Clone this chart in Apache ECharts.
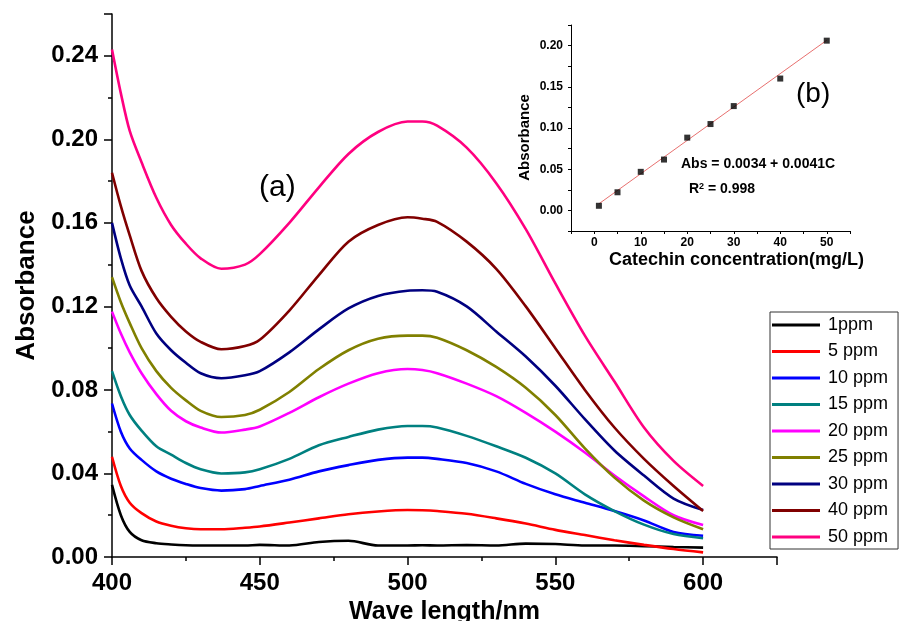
<!DOCTYPE html>
<html>
<head>
<meta charset="utf-8">
<script src="https://cdn.jsdelivr.net/npm/echarts@6/dist/echarts.min.js"></script>
<style>
    html, body {margin: 0; padding: 0; background: #fff;}
    #chartMain {width: 900px; height: 621px;}
</style>
</head>
<body>
<div id="chartMain"></div>
<script>
// wavelength grid (nm) shared by all spectra
var wavelength = [400, 403, 406, 410, 415, 420, 425, 430, 437, 445, 450, 460, 470, 480, 490, 500, 505, 510, 520, 530, 540, 550, 560, 570, 580, 590, 600];

var abs1ppm = [0.0345, 0.020, 0.012, 0.008, 0.0066, 0.006, 0.0056, 0.0055, 0.0055, 0.0055, 0.0058, 0.0055, 0.0072, 0.0078, 0.0055, 0.0055, 0.0056, 0.0055, 0.0057, 0.0055, 0.0064, 0.0062, 0.0055, 0.0055, 0.0052, 0.0048, 0.0045];
var abs5ppm = [0.048, 0.034, 0.026, 0.021, 0.017, 0.015, 0.0138, 0.0133, 0.0133, 0.014, 0.0146, 0.0165, 0.0185, 0.0205, 0.0218, 0.0225, 0.0224, 0.022, 0.0207, 0.0185, 0.016, 0.013, 0.0105, 0.008, 0.0058, 0.0038, 0.0022];
var abs10ppm = [0.0735, 0.060, 0.052, 0.0465, 0.041, 0.0375, 0.035, 0.033, 0.0318, 0.0325, 0.034, 0.037, 0.041, 0.044, 0.0465, 0.0476, 0.0476, 0.047, 0.045, 0.041, 0.035, 0.030, 0.026, 0.022, 0.0175, 0.012, 0.0102];
var abs15ppm = [0.089, 0.077, 0.068, 0.0605, 0.053, 0.049, 0.045, 0.042, 0.040, 0.0405, 0.042, 0.047, 0.0535, 0.0575, 0.061, 0.0627, 0.0627, 0.062, 0.058, 0.053, 0.0475, 0.040, 0.030, 0.022, 0.0155, 0.011, 0.009];
var abs20ppm = [0.1175, 0.107, 0.098, 0.088, 0.078, 0.070, 0.065, 0.062, 0.0596, 0.061, 0.0625, 0.069, 0.0765, 0.083, 0.088, 0.090, 0.0895, 0.088, 0.083, 0.077, 0.069, 0.060, 0.050, 0.039, 0.029, 0.020, 0.0153];
var abs25ppm = [0.134, 0.122, 0.112, 0.100, 0.089, 0.081, 0.075, 0.070, 0.067, 0.068, 0.0705, 0.079, 0.090, 0.099, 0.1045, 0.106, 0.106, 0.105, 0.099, 0.091, 0.081, 0.068, 0.052, 0.038, 0.027, 0.019, 0.0133];
var abs30ppm = [0.160, 0.143, 0.130, 0.120, 0.107, 0.099, 0.093, 0.088, 0.0856, 0.087, 0.089, 0.098, 0.109, 0.119, 0.125, 0.1275, 0.1277, 0.127, 0.120, 0.108, 0.096, 0.082, 0.066, 0.051, 0.039, 0.028, 0.0225];
var abs40ppm = [0.184, 0.168, 0.154, 0.137, 0.124, 0.115, 0.108, 0.103, 0.0995, 0.101, 0.104, 0.118, 0.135, 0.151, 0.159, 0.1627, 0.162, 0.1605, 0.151, 0.138, 0.120, 0.100, 0.080, 0.062, 0.047, 0.034, 0.022];
var abs50ppm = [0.243, 0.222, 0.204, 0.189, 0.172, 0.159, 0.150, 0.143, 0.138, 0.140, 0.145, 0.160, 0.177, 0.193, 0.2035, 0.2085, 0.2085, 0.2065, 0.196, 0.179, 0.157, 0.131, 0.106, 0.084, 0.062, 0.046, 0.034];

var seriesNames = ['1ppm', '5 ppm', '10 ppm', '15 ppm', '20 ppm', '25 ppm', '30 ppm', '40 ppm', '50 ppm'];
var seriesValues = [abs1ppm, abs5ppm, abs10ppm, abs15ppm, abs20ppm, abs25ppm, abs30ppm, abs40ppm, abs50ppm];

// inset (b): calibration points
var calibConc = [1, 5, 10, 15, 20, 25, 30, 40, 50];
var calibAbs = [0.0056, 0.022, 0.0468, 0.0617, 0.0883, 0.1048, 0.1266, 0.160, 0.206];
var fitConc = [1, 50];
var fitAbs = [0.008, 0.2065];

var lineColors = ["#000000", "#ff0000", "#0000ff", "#008080", "#ff00ff", "#808000", "#000080", "#800000", "#ff0080"];
var font = "'Liberation Sans', Arial, sans-serif";
var axisLine = {onZero: false, lineStyle: {color: "#000", width: 1.5}};
var insetAxisLine = {onZero: false, lineStyle: {color: "#000", width: 1}};

var series = [];
for (var i = 0; i < seriesNames.length; i++) {
    var pts = [];
    for (var j = 0; j < wavelength.length; j++) {
        pts.push([wavelength[j], seriesValues[i][j]]);
    }
    series.push({
        name: seriesNames[i],
        type: 'line',
        xAxisIndex: 0,
        yAxisIndex: 0,
        data: pts,
        showSymbol: false,
        smooth: 0.3,
        lineStyle: {color: lineColors[i], width: 2.6},
        itemStyle: {color: lineColors[i]},
        z: 2 + i
    });
}

var fitPts = [];
for (var k = 0; k < fitConc.length; k++) fitPts.push([fitConc[k], fitAbs[k]]);
series.push({
    name: 'fit',
    type: 'line',
    xAxisIndex: 1,
    yAxisIndex: 1,
    data: fitPts,
    showSymbol: false,
    lineStyle: {color: "#e8706f", width: 1},
    z: 20
});
var calibPts = [];
for (var m = 0; m < calibConc.length; m++) calibPts.push([calibConc[m], calibAbs[m]]);
series.push({
    name: 'calib',
    type: 'scatter',
    xAxisIndex: 1,
    yAxisIndex: 1,
    data: calibPts,
    symbol: 'rect',
    symbolSize: 6,
    itemStyle: {color: "#000"},
    z: 21
});

var option = {
    animation: false,
    backgroundColor: "#fff",
    textStyle: {fontFamily: font},
    grid: [
        {left: 112, right: 123, top: 14, bottom: 64, containLabel: false, outerBoundsMode: 'none'},
        {left: 571, right: 50, top: 25, bottom: 390, containLabel: false, outerBoundsMode: 'none'}
    ],
    legend: {
        data: seriesNames,
        orient: 'vertical',
        left: 770,
        top: 312,
        icon: 'rect',
        itemWidth: 48,
        itemHeight: 3,
        itemGap: 6.5,
        padding: [3, 10, 2, 2],
        borderColor: "#333",
        borderWidth: 1,
        textStyle: {fontFamily: font, fontSize: 18, color: "#000", lineHeight: 20, padding: [0, 0, 0, 3]}
    },
    xAxis: [
        {
            gridIndex: 0,
            type: 'value',
            min: 400,
            max: 625,
            interval: 50,
            name: 'Wave length/nm',
            nameLocation: 'middle',
            nameGap: 35,
            nameTextStyle: {fontFamily: font, fontSize: 25, fontWeight: 'bold', color: "#000"},
            axisLine: axisLine,
            axisTick: {show: true, length: 8, lineStyle: {color: "#000", width: 1.5}},
            minorTick: {show: true, splitNumber: 2, length: 4, lineStyle: {color: "#000", width: 1.5}},
            splitLine: {show: false},
            axisLabel: {
                margin: 14,
                fontFamily: font, fontSize: 24, fontWeight: 'bold', color: "#000",
                formatter: function (v) { return v % 50 === 0 ? String(v) : ''; }
            }
        },
        {
            gridIndex: 1,
            type: 'value',
            min: -5,
            max: 55,
            interval: 5,
            name: 'Catechin concentration(mg/L)',
            nameLocation: 'middle',
            nameGap: 20,
            nameTextStyle: {fontFamily: font, fontSize: 18, fontWeight: 'bold', color: "#000", padding: [0, 0, 0, 52]},
            axisLine: insetAxisLine,
            axisTick: {show: true, length: 3, lineStyle: {color: "#000"}},
            splitLine: {show: false},
            axisLabel: {
                margin: 6,
                fontFamily: font, fontSize: 12, fontWeight: 'bold', color: "#000",
                formatter: function (v) { return v % 10 === 0 ? String(v) : ''; }
            }
        }
    ],
    yAxis: [
        {
            gridIndex: 0,
            type: 'value',
            min: 0,
            max: 0.26,
            interval: 0.04,
            name: 'Absorbance',
            nameLocation: 'middle',
            nameGap: 72,
            nameTextStyle: {fontFamily: font, fontSize: 26, fontWeight: 'bold', color: "#000"},
            axisLine: axisLine,
            axisTick: {show: true, length: 8, lineStyle: {color: "#000", width: 1.5}},
            minorTick: {show: true, splitNumber: 2, length: 4, lineStyle: {color: "#000", width: 1.5}},
            splitLine: {show: false},
            axisLabel: {
                margin: 14,
                fontFamily: font, fontSize: 24, fontWeight: 'bold', color: "#000",
                formatter: function (v) {
                    var n = Math.round(v * 100);
                    return n % 4 === 0 ? v.toFixed(2) : '';
                }
            }
        },
        {
            gridIndex: 1,
            type: 'value',
            min: -0.025,
            max: 0.225,
            interval: 0.025,
            name: 'Absorbance',
            nameLocation: 'middle',
            nameGap: 39,
            nameTextStyle: {fontFamily: font, fontSize: 15, fontWeight: 'bold', color: "#000", padding: [0, 19, 0, 0]},
            axisLine: insetAxisLine,
            axisTick: {show: true, length: 3, lineStyle: {color: "#000"}},
            splitLine: {show: false},
            axisLabel: {
                margin: 8,
                fontFamily: font, fontSize: 12, fontWeight: 'bold', color: "#000",
                formatter: function (v) {
                    var n = Math.round(v * 1000);
                    return n % 50 === 0 ? v.toFixed(2) : '';
                }
            }
        }
    ],
    graphic: [
        {type: 'text', left: 259, top: 173, style: {text: '(a)', font: "30px " + font, fill: "#000"}},
        {type: 'text', left: 796, top: 80, style: {text: '(b)', font: "28px " + font, fill: "#000"}},
        {type: 'text', left: 681, top: 157, style: {text: 'Abs = 0.0034 + 0.0041C', font: "bold 14px " + font, fill: "#000"}},
        {
            type: 'text', left: 689, top: 182,
            style: {
                text: '{a|R}{s|2}{a| = 0.998}',
                rich: {
                    a: {font: "bold 14px " + font, fill: "#000", verticalAlign: 'bottom'},
                    s: {font: "bold 9px " + font, fill: "#000", verticalAlign: 'top'}
                }
            }
        }
    ],
    series: series
};

var chartMain = echarts.init(document.getElementById("chartMain"));
chartMain.setOption(option);
</script>
</body>
</html>
